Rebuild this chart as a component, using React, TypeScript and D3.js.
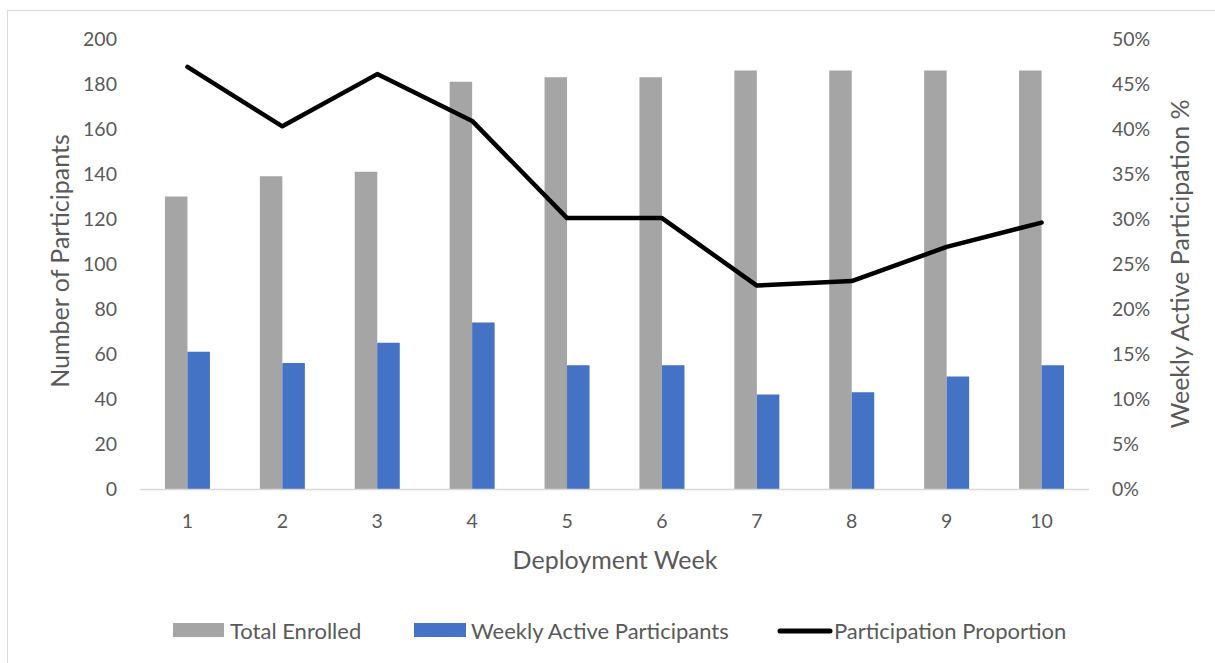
import React from 'react'
import * as d3 from 'd3'

const weeks = ['1', '2', '3', '4', '5', '6', '7', '8', '9', '10']
const totalEnrolled = [130, 139, 141, 181, 183, 183, 186, 186, 186, 186]
const weeklyActive = [61, 56, 65, 74, 55, 55, 42, 43, 50, 55]
const proportion = [0.469, 0.403, 0.461, 0.409, 0.301, 0.301, 0.226, 0.231, 0.269, 0.296]
const leftTicks = [0, 20, 40, 60, 80, 100, 120, 140, 160, 180, 200]
const rightTicks = [0, 0.05, 0.1, 0.15, 0.2, 0.25, 0.3, 0.35, 0.4, 0.45, 0.5]

const W = 1215
const H = 663
const FONT = 'Lato, "Open Sans", sans-serif'
const TEXT = '#595959'
const GRAY = '#a5a5a5'
const BLUE = '#4472c4'

export default function App() {
  const left = 140
  const right = 1089
  const top = 39
  const bottom = 489

  const x = d3.scaleBand<string>().domain(weeks).range([left, right])
  const y = d3.scaleLinear().domain([0, 200]).range([bottom, top])
  const yR = d3.scaleLinear().domain([0, 0.5]).range([bottom, top])
  const barW = 22.5
  const fmtPct = d3.format('.0%')

  const line = d3
    .line<number>()
    .x((_, i) => (x(weeks[i]) ?? 0) + x.bandwidth() / 2)
    .y(d => yR(d))

  return (
    <svg
      width={W}
      height={H}
      style={{ position: 'absolute', left: 0, top: 0, background: '#fff' }}
      fontFamily={FONT}
    >
      <line x1={7} x2={W} y1={10.5} y2={10.5} stroke="#d9d9d9" />
      <line x1={7.5} x2={7.5} y1={10} y2={H} stroke="#d9d9d9" />

      {/* bars */}
      {weeks.map((w, i) => {
        const cx = (x(w) ?? 0) + x.bandwidth() / 2
        return (
          <g key={w}>
            <rect
              x={cx - barW}
              y={y(totalEnrolled[i])}
              width={barW}
              height={bottom - y(totalEnrolled[i])}
              fill={GRAY}
            />
            <rect
              x={cx}
              y={y(weeklyActive[i])}
              width={barW}
              height={bottom - y(weeklyActive[i])}
              fill={BLUE}
            />
          </g>
        )
      })}

      {/* baseline */}
      <line x1={left} x2={right} y1={bottom + 0.5} y2={bottom + 0.5} stroke="#d9d9d9" strokeWidth={1.5} />

      {/* proportion line */}
      <path
        d={line(proportion) ?? ''}
        fill="none"
        stroke="#000"
        strokeWidth={4.5}
        strokeLinejoin="round"
        strokeLinecap="round"
      />

      {/* left axis */}
      {leftTicks.map(t => (
        <text key={t} x={117} y={y(t)} dy="0.35em" textAnchor="end" fontSize={19.5} fill={TEXT}>
          {t}
        </text>
      ))}
      {/* right axis */}
      {rightTicks.map(t => (
        <text key={t} x={1112} y={yR(t)} dy="0.35em" textAnchor="start" fontSize={19.5} fill={TEXT}>
          {fmtPct(t)}
        </text>
      ))}
      {/* x axis */}
      {weeks.map(w => (
        <text
          key={w}
          x={(x(w) ?? 0) + x.bandwidth() / 2}
          y={521}
          dy="0.35em"
          textAnchor="middle"
          fontSize={19.5}
          fill={TEXT}
        >
          {w}
        </text>
      ))}

      <text
        transform={`translate(60,${(top + bottom) / 2 - 3}) rotate(-90)`}
        textAnchor="middle"
        dy="0.35em"
        fontSize={25}
        fill={TEXT}
      >
        Number of Participants
      </text>
      <text
        transform={`translate(1180,${(top + bottom) / 2}) rotate(-90)`}
        textAnchor="middle"
        dy="0.35em"
        fontSize={25}
        fill={TEXT}
      >
        Weekly Active Participation %
      </text>
      <text x={615} y={560} dy="0.35em" textAnchor="middle" fontSize={25} fill={TEXT}>
        Deployment Week
      </text>

      {/* legend */}
      <g fontSize={22} fill={TEXT}>
        <rect x={173} y={623} width={51} height={14} fill={GRAY} />
        <text x={230} y={631} dy="0.35em">Total Enrolled</text>
        <rect x={414} y={623} width={52} height={14} fill={BLUE} />
        <text x={471} y={631} dy="0.35em">Weekly Active Participants</text>
        <line x1={780} x2={830} y1={631} y2={631} stroke="#000" strokeWidth={5} strokeLinecap="round" />
        <text x={834} y={631} dy="0.35em">Participation Proportion</text>
      </g>
    </svg>
  )
}
